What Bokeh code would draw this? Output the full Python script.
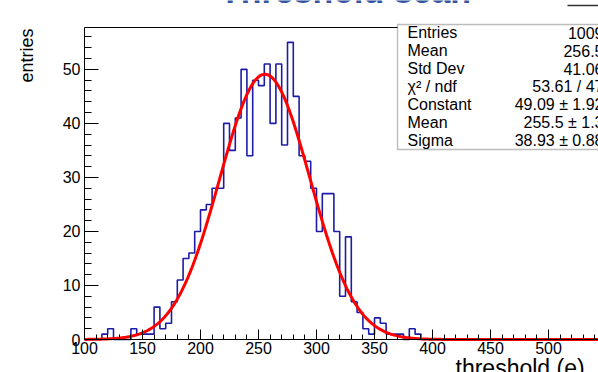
import numpy as np
from bokeh.plotting import figure
from bokeh.models import Range1d, FixedTicker, Label, BoxAnnotation
from bokeh.embed import file_html
from bokeh.resources import INLINE

# ---------------- data ----------------
hist_lo = 100
hist_hi = 600
bin_width = 5
# counts per 5-unit bin, starting at 100 (bins after 385 are empty)
counts_from_100 = [0, 0, 0, 1, 2, 0, 0, 0, 2, 1,
                   1, 1, 6, 2, 3, 7, 11, 15, 16, 20,
                   24, 25, 28, 28, 40, 35, 41, 50, 34, 48,
                   47, 51, 40, 51, 36, 55, 45, 34, 33, 28,
                   20, 27, 27, 20, 8, 19, 7, 5, 2, 1,
                   4, 3, 1, 1, 1, 0, 2, 1]
fit_constant = 49.09
fit_mean = 255.5
fit_sigma = 38.93

stats_names = ["Entries", "Mean", "Std Dev", "\u03c7\u00b2 / ndf", "Constant", "Mean", "Sigma"]
stats_values = ["1009", "256.5", "41.06", "53.61 / 47", "49.09 \u00b1 1.92", "255.5 \u00b1 1.3", "38.93 \u00b1 0.88"]

title_text = "Threshold scan"
x_title = "threshold (e)"
y_title = "entries"

x_major = list(range(100, 601, 50))
x_minor = list(range(100, 601, 10))
y_major = list(range(0, 51, 10))
y_minor = list(range(0, 58, 2))

# ---------------- layout geometry ----------------
W, H = 598, 372
FL, FT, FB = 84, 27, 339          # pixel position of the histogram frame
PX_PER_X = 1.16                    # pixels per x unit
Y_TOP = max(counts_from_100) * 1.05
PX_PER_Y = (FB - FT) / Y_TOP


def dx(px):
    return hist_lo + (px - FL) / PX_PER_X


def dy(py):
    return (FB - py) / PX_PER_Y


# the plotting area covers the whole canvas; axes are pinned at the frame edges
p = figure(width=W, height=H, output_backend="svg", toolbar_location=None,
           x_range=Range1d(dx(0), dx(W)), y_range=Range1d(dy(H), dy(0)),
           min_border=0, min_border_left=0, min_border_right=0,
           min_border_top=0, min_border_bottom=0)
p.outline_line_color = None
p.xgrid.visible = False
p.ygrid.visible = False
p.background_fill_color = "white"
p.border_fill_color = "white"

# axes
xa = p.xaxis[0]
xa.fixed_location = 0
xa.bounds = (hist_lo, hist_hi)
xa.ticker = FixedTicker(ticks=x_major, minor_ticks=x_minor)
xa.major_tick_in = 10
xa.major_tick_out = 0
xa.minor_tick_in = 5
xa.minor_tick_out = 0
xa.major_label_standoff = 2
xa.major_label_text_font = "Liberation Sans"
xa.major_label_text_font_size = "16px"
xa.major_label_text_color = "black"
xa.axis_line_color = "black"
xa.major_tick_line_color = "black"
xa.minor_tick_line_color = "black"

ya = p.yaxis[0]
ya.fixed_location = hist_lo
ya.bounds = (0, Y_TOP)
ya.ticker = FixedTicker(ticks=y_major, minor_ticks=y_minor)
ya.major_tick_in = 14
ya.major_tick_out = 0
ya.minor_tick_in = 7
ya.minor_tick_out = 0
ya.major_label_standoff = 4
ya.major_label_text_font = "Liberation Sans"
ya.major_label_text_font_size = "16px"
ya.major_label_text_color = "black"
ya.axis_line_color = "black"
ya.major_tick_line_color = "black"
ya.minor_tick_line_color = "black"

# frame top line
p.segment(x0=[hist_lo], y0=[Y_TOP], x1=[hist_hi], y1=[Y_TOP], line_color="black", line_width=1)

# histogram (step outline)
nbins = (hist_hi - hist_lo) // bin_width
counts = counts_from_100 + [0] * (nbins - len(counts_from_100))
edges = [hist_lo + i * bin_width for i in range(nbins + 1)]
p.step(x=edges, y=counts + [counts[-1]], mode="after", line_color="#1c1ca6", line_width=1.6)

# gaussian fit curve from the fitted parameters
xf = np.linspace(hist_lo, hist_hi, 600)
yf = fit_constant * np.exp(-0.5 * ((xf - fit_mean) / fit_sigma) ** 2)
p.line(xf, yf, line_color="#ff0000", line_width=3)

# stats box
p.add_layout(BoxAnnotation(left=dx(397), right=dx(700), bottom=dy(149), top=dy(24),
                           fill_color="white", fill_alpha=1.0,
                           line_color="#222222", line_width=1.4, level="overlay"))
row_base = [38, 56, 74, 92, 110, 128, 146]
for name, val, by in zip(stats_names, stats_values, row_base):
    p.add_layout(Label(x=dx(407), y=dy(by - 6), text=name, text_align="left",
                       text_baseline="alphabetic", text_font="Liberation Sans",
                       text_font_size="16px", text_color="black", level="overlay"))
    p.add_layout(Label(x=dx(603), y=dy(by - 6), text=val, text_align="right",
                       text_baseline="alphabetic", text_font="Liberation Sans",
                       text_font_size="16px", text_color="black", level="overlay"))

# title (mostly cut off at top)
p.add_layout(Label(x=dx(345), y=dy(-10), text=title_text, text_align="center",
                   text_baseline="alphabetic", text_font="Liberation Sans",
                   text_font_style="bold", text_font_size="34px", text_color="#34559f"))

# small line at top right
p.add_layout(BoxAnnotation(left=dx(567), right=dx(700), bottom=dy(5.7), top=dy(4.3),
                           fill_color="#333333", fill_alpha=1.0, line_alpha=0))

# axis titles
p.add_layout(Label(x=dx(455), y=dy(367), text=x_title, text_align="left",
                   text_baseline="alphabetic", text_font="Liberation Sans",
                   text_font_size="23px", text_color="black"))
p.add_layout(Label(x=dx(26), y=dy(28), text=y_title, angle=np.pi / 2,
                   text_align="right", text_baseline="alphabetic",
                   text_font="Liberation Sans", text_font_size="18px", text_color="black"))

open("out.html", "w").write(file_html(p, INLINE))
